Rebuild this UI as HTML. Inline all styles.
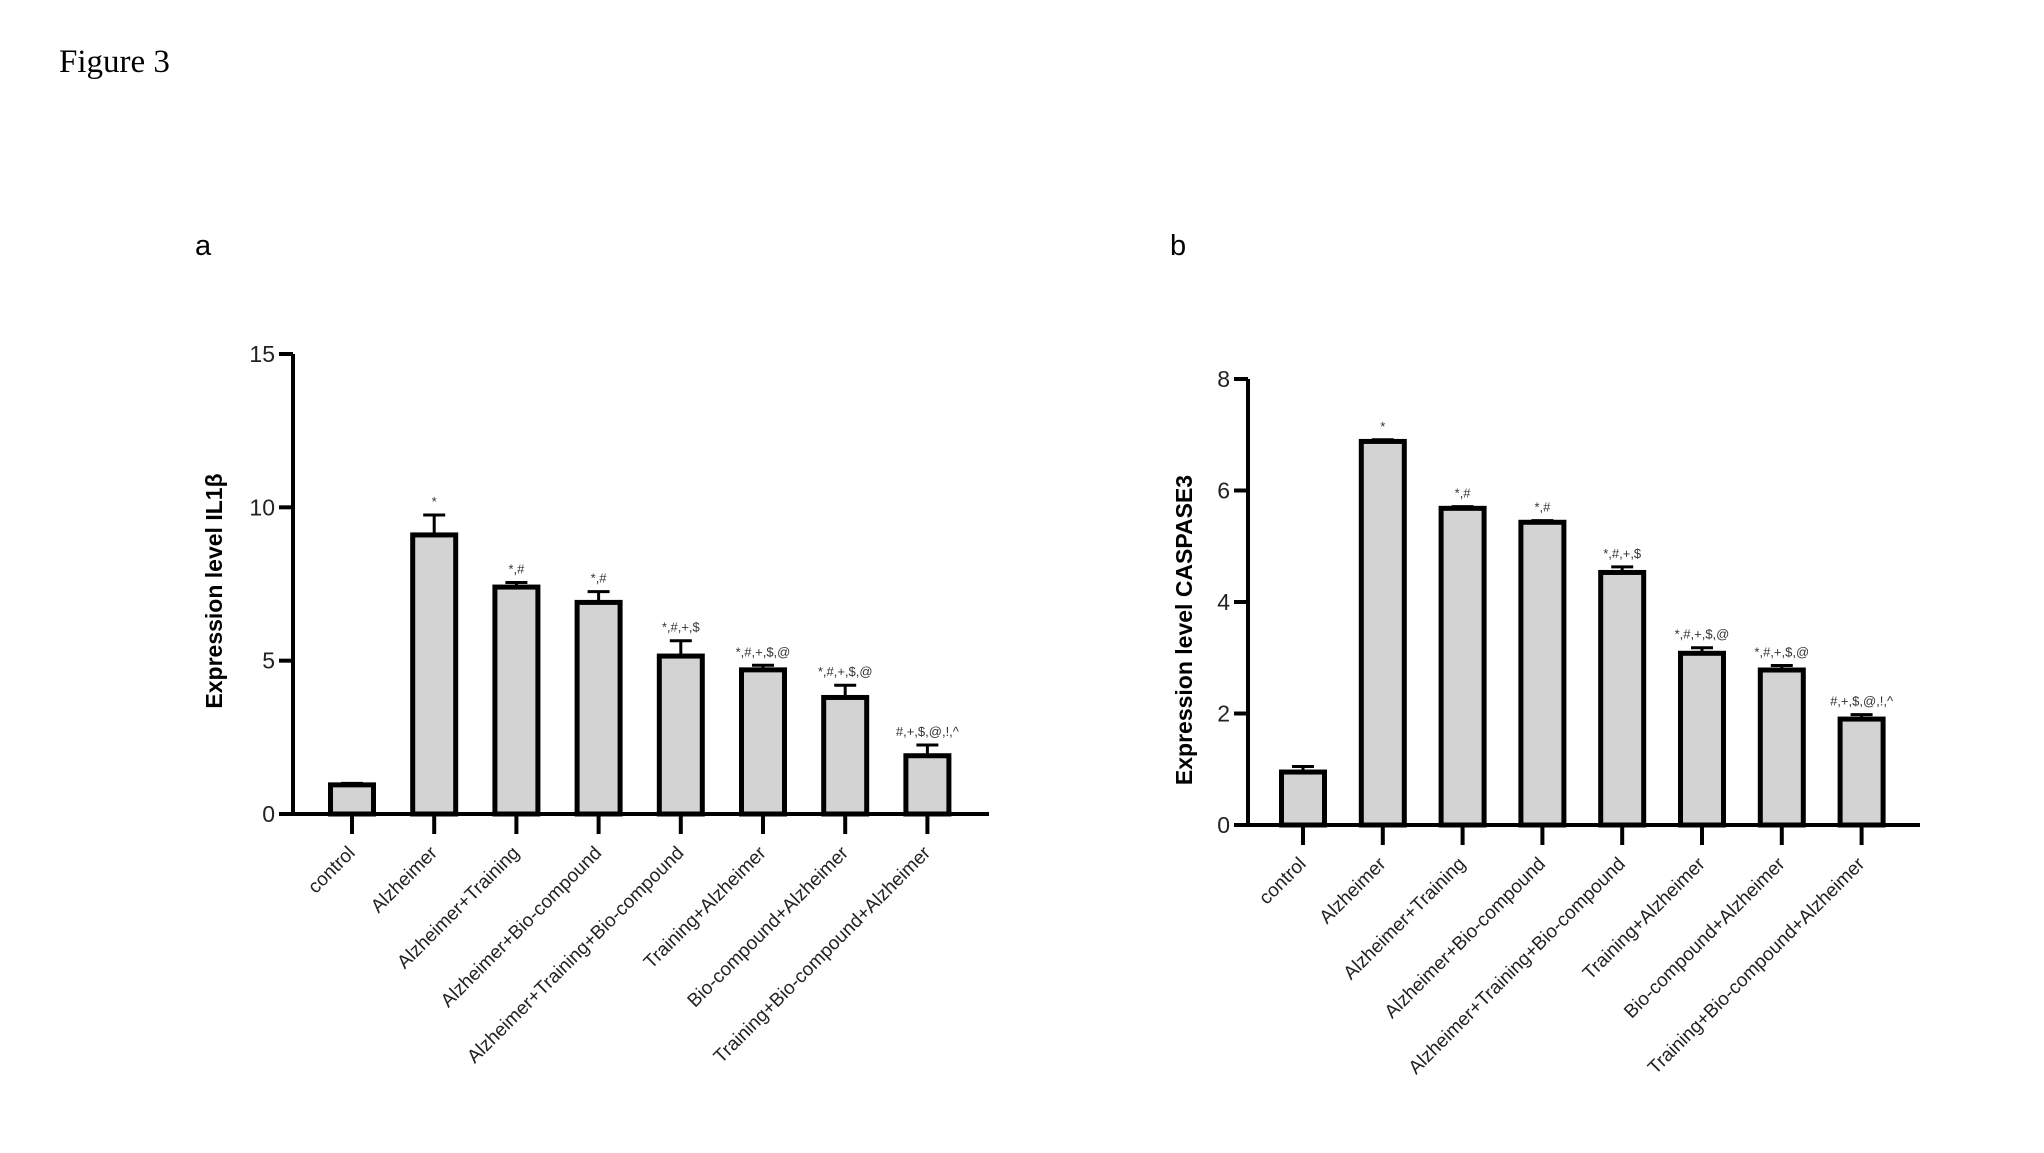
<!DOCTYPE html>
<html><head><meta charset="utf-8"><style>
html,body{margin:0;padding:0;background:#fff;}
svg{display:block;font-family:"Liberation Sans",Arial,sans-serif;}
</style></head><body>
<svg id="fig" width="2044" height="1153" viewBox="0 0 2044 1153">
<text x="59" y="72" font-family="Liberation Serif,serif" font-size="33">Figure 3</text>
<text x="195" y="255" font-size="29">a</text>
<text x="1170" y="255" font-size="29">b</text>
<g id="chartA"></g>
<g id="chartB"></g>
</svg>
<script>
const categories = ["control","Alzheimer","Alzheimer+Training","Alzheimer+Bio-compound","Alzheimer+Training+Bio-compound","Training+Alzheimer","Bio-compound+Alzheimer","Training+Bio-compound+Alzheimer"];
const sigLabels = ["","*","*,#","*,#","*,#,+,$","*,#,+,$,@","*,#,+,$,@","#,+,$,@,!,^"];
const il1bValues = [0.95, 9.1, 7.4, 6.9, 5.15, 4.7, 3.8, 1.9];
const il1bErrors = [0.05, 0.65, 0.15, 0.35, 0.5, 0.15, 0.4, 0.35];
const il1bTicks = [0, 5, 10, 15];
const caspValues = [0.95, 6.88, 5.68, 5.43, 4.53, 3.08, 2.78, 1.9];
const caspErrors = [0.1, 0.03, 0.03, 0.03, 0.1, 0.1, 0.08, 0.08];
const caspTicks = [0, 2, 4, 6, 8];
const NS = "http://www.w3.org/2000/svg";
function mk(parent, tag, attrs, text){
  const e = document.createElementNS(NS, tag);
  for (const k in attrs) e.setAttribute(k, attrs[k]);
  if (text !== undefined) e.textContent = text;
  parent.appendChild(e);
  return e;
}
function draw(g, cfg, values, errors, ticks){
  const y = v => cfg.y0 - (v - 0) / (cfg.yMax) * (cfg.y0 - cfg.yTop);
  const x = i => cfg.x0 + i * cfg.step;
  // axes
  let e = mk(g, "line", {x1:cfg.ax, y1:cfg.yTop, x2:cfg.ax, y2:cfg.y0+2, stroke:"#000","stroke-width":4});
  
  
  e = mk(g, "line", {x1:cfg.ax-2, y1:cfg.y0, x2:cfg.axEnd, y2:cfg.y0, stroke:"#000","stroke-width":4});
  
  
  ticks.forEach(t => {
    const l = mk(g, "line", {x1:cfg.ax-14, y1:y(t), x2:cfg.ax, y2:y(t), stroke:"#000","stroke-width":4});
    
    
    const tx = mk(g, "text", {x:cfg.ax-18, y:y(t)+8, "font-size":23, "text-anchor":"end", fill:"#222"}, String(t));
    
    
  });
  const title = mk(g, "text", {x:0, y:0, "font-size":23, "font-weight":"bold", "text-anchor":"middle", transform:`translate(${cfg.titleX},${cfg.titleY}) rotate(-90)`}, cfg.title);
  
  
  values.forEach((v, i) => {
    const cx = x(i), w = cfg.bw;
    const top = y(v + errors[i]);
    const eb = mk(g, "line", {x1:cx, y1:top, x2:cx, y2:y(v), stroke:"#000","stroke-width":3});
    
    
    const cap = mk(g, "line", {x1:cx-11, y1:top, x2:cx+11, y2:top, stroke:"#000","stroke-width":3});
    
    
    const b = mk(g, "rect", {x:cx-w/2, y:y(v), width:w, height:cfg.y0-y(v), fill:"#d3d3d3", stroke:"#000","stroke-width":5});
    
    
    if (sigLabels[i]) {
      const s = mk(g, "text", {x:cx, y:top-9, "font-size":13, "text-anchor":"middle", fill:"#333"}, sigLabels[i]);
      
      
    }
    const tk = mk(g, "line", {x1:cx, y1:cfg.y0, x2:cx, y2:cfg.y0+20, stroke:"#000","stroke-width":4});
    
    
    const lb = mk(g, "text", {x:0, y:0, "font-size":19, "text-anchor":"end", fill:"#222", transform:`translate(${cx+4},${cfg.y0+40}) rotate(-45)`}, categories[i]);
    
    
  });
}
draw(document.getElementById("chartA"), {ax:293, axEnd:989, y0:814, yTop:354, yMax:15, x0:352, step:82.2, bw:43, title:"Expression level IL1β", titleX:222, titleY:591}, il1bValues, il1bErrors, il1bTicks);
draw(document.getElementById("chartB"), {ax:1248, axEnd:1920, y0:825, yTop:379, yMax:8, x0:1303, step:79.8, bw:43, title:"Expression level CASPASE3", titleX:1192, titleY:630}, caspValues, caspErrors, caspTicks);
</script>
</body></html>
